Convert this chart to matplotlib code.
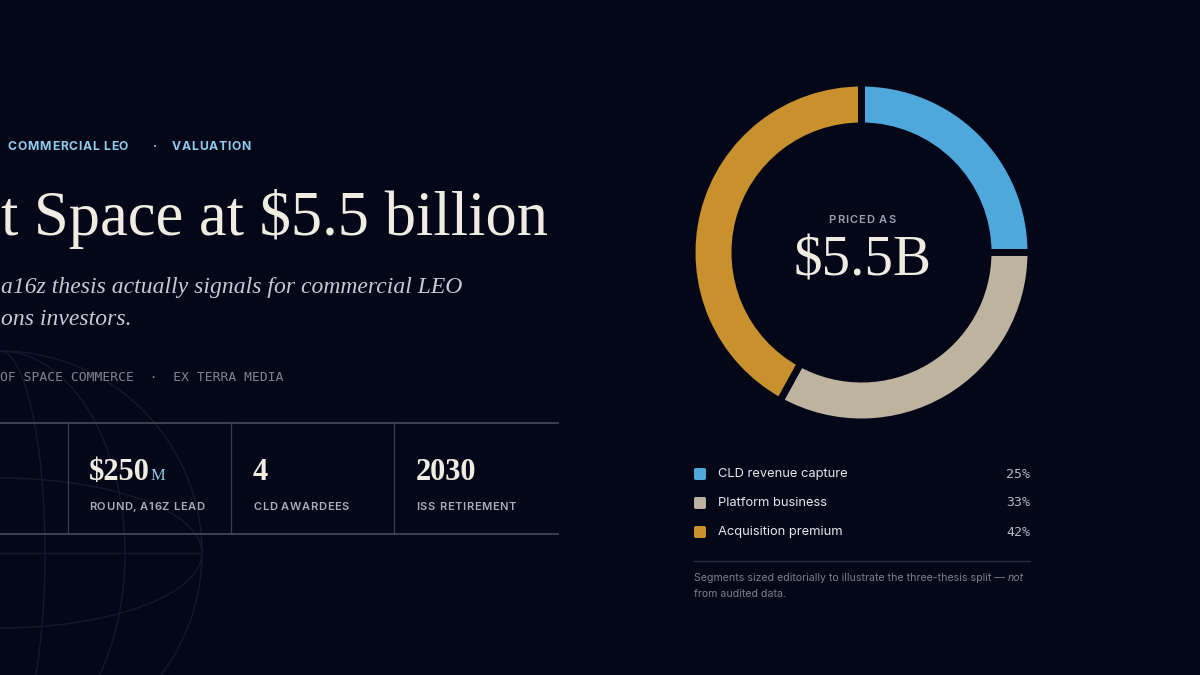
import matplotlib
matplotlib.use('Agg')
import matplotlib.pyplot as plt
from matplotlib.font_manager import FontProperties
from matplotlib.patches import Ellipse, Circle, FancyBboxPatch

# Canvas size in pixels and palette.
W, H = 1200, 675
BG = '#040717'
CREAM = '#f1ece2'
SKY = '#8fcbea'

# Donut data.
segment_labels = ['CLD revenue capture', 'Platform business', 'Acquisition premium']
segment_shares = [25, 33, 42]
segment_colors = ['#4ea8dc', '#bdb39f', '#c9912e']

# Stat strip data.
stat_values = ['$250', '4', '2030']
stat_units = ['M', '', '']
stat_labels = ['ROUND, A16Z LEAD', 'CLD AWARDEES', 'ISS RETIREMENT']

fig = plt.figure(figsize=(12, 6.75), dpi=100, facecolor=BG)
# Full size axes in pixel units (y down) for all the page furniture.
bg = fig.add_axes([0, 0, 1, 1])
bg.set_xlim(0, W)
bg.set_ylim(H, 0)
bg.axis('off')
renderer = fig.canvas.get_renderer()


def ink_width(s, **kw):
    prop = FontProperties(family=kw.get('family'), size=kw.get('size'),
                          weight=kw.get('weight', 'normal'), style=kw.get('style', 'normal'))
    w, h, d = renderer.get_text_width_height_descent(s, prop, ismath=False)
    return w


def tracked(x, y, s, track, ha='left', **kw):
    # letter-spaced text, one glyph at a time
    total = ink_width(s, **kw) + track * (len(s) - 1)
    if ha == 'center':
        x -= total / 2
    elif ha == 'right':
        x -= total
    for i, c in enumerate(s):
        if c == ' ':
            continue
        cx = x + ink_width(s[:i + 1], **kw) - ink_width(c, **kw) + i * track
        bg.text(cx, y, c, ha='left', va='baseline', **kw)
    return total


# Faint globe behind the left column.
gx, gy, gr = 0, 553, 202
globe = dict(fill=False, edgecolor='#111a2e', linewidth=1.0, zorder=0)
bg.add_patch(Circle((gx, gy), gr, **globe))
for half_w in [45, 125]:
    bg.add_patch(Ellipse((gx, gy), 2 * half_w, 2 * gr, **globe))
bg.add_patch(Ellipse((gx, gy), 2 * gr, 150, **globe))
bg.plot([gx - gr, gx + gr], [gy, gy], color='#111a2e', lw=1.0, zorder=0)

# Eyebrow, headline, standfirst, byline.
eyebrow = dict(family='Inter', size=8.8, weight='bold', color=SKY)
tracked(8, 150, 'COMMERCIAL LEO', 0.7, **eyebrow)
bg.text(155, 150, '·', ha='center', va='baseline', **eyebrow)
tracked(172, 150, 'VALUATION', 0.7, **eyebrow)

bg.text(1, 235, 't Space at $5.5 billion', family='Liberation Serif', size=45,
        color=CREAM, va='baseline')
sub = dict(family='Liberation Serif', size=17, style='italic', color='#c8cad3', va='baseline')
bg.text(1, 293, 'a16z thesis actually signals for commercial LEO', **sub)
bg.text(1, 325, 'ons investors.', **sub)

bg.text(0, 381, 'OF SPACE COMMERCE  ·  EX TERRA MEDIA', family='DejaVu Sans Mono',
        size=9.4, color='#7f8493', va='baseline')

# Stat strip.
bg.plot([0, 558], [423, 423], color='#474b57', lw=1.2)
bg.plot([0, 558], [534, 534], color='#474b57', lw=1.2)
for vx in [68, 231, 394]:
    bg.plot([vx, vx], [423, 534], color='#3a3e4a', lw=0.9)

stat_x = [89, 253, 416]
value_font = dict(family='Liberation Serif', size=22, weight='bold', color=CREAM)
label_font = dict(family='Inter', size=8, weight='semibold', color='#a8afbf')
for x, val, unit, lab in zip(stat_x, stat_values, stat_units, stat_labels):
    bg.text(x, 480, val, va='baseline', **value_font)
    if unit:
        bg.text(x + ink_width(val, **value_font) + 0.5, 480, unit, va='baseline',
                family='Liberation Serif', size=12, color=SKY)
    tracked(x, 510, lab, 0.6, **label_font)

# Donut.
cx, cy, r_out, band = 861.5, 252.5, 166, 36
edge_px = 7
ax = fig.add_axes([(cx - r_out) / W, 1 - (cy + r_out) / H, 2 * r_out / W, 2 * r_out / H])
ax.pie(segment_shares, colors=segment_colors, startangle=90, counterclock=False,
       radius=1 + edge_px / 2 / r_out,
       wedgeprops=dict(width=(band + edge_px) / r_out, edgecolor=BG, linewidth=edge_px * 0.72))
ax.set_xlim(-1, 1)
ax.set_ylim(-1, 1)
ax.set_aspect('equal')
ax.axis('off')

tracked(862, 223, 'PRICED AS', 1.0, ha='center', family='Inter', size=8,
        weight='semibold', color='#9aa3b6')
bg.text(862, 275, '$5.5B', family='Liberation Serif', size=41, color=CREAM,
        ha='center', va='baseline')

# Legend.
row_y = [474, 503, 532]
for y, lab, pct, col in zip(row_y, segment_labels, segment_shares, segment_colors):
    bg.add_patch(FancyBboxPatch((694, y - 6), 12, 12, boxstyle='round,pad=0,rounding_size=2',
                                facecolor=col, edgecolor='none'))
    bg.text(718, y, lab, family='Inter', size=9.3, color='#e6e7ec', va='center')
    bg.text(1030, y, f'{pct}%', family='DejaVu Sans Mono', size=9.5, color='#b5b9c4',
            ha='right', va='center')

bg.plot([694, 1030], [561, 561], color='#2b2f3d', lw=1)
note = dict(family='Inter', size=7.6, color='#7b8090', va='baseline')
line1 = 'Segments sized editorially to illustrate the three-thesis split — '
bg.text(694, 581, line1, **note)
bg.text(694 + ink_width(line1 + 'x', **note) - ink_width('x', **note), 581, 'not',
        style='italic', **note)
bg.text(694, 597, 'from audited data.', **note)

fig.savefig('out.png', dpi=100, facecolor=BG)
